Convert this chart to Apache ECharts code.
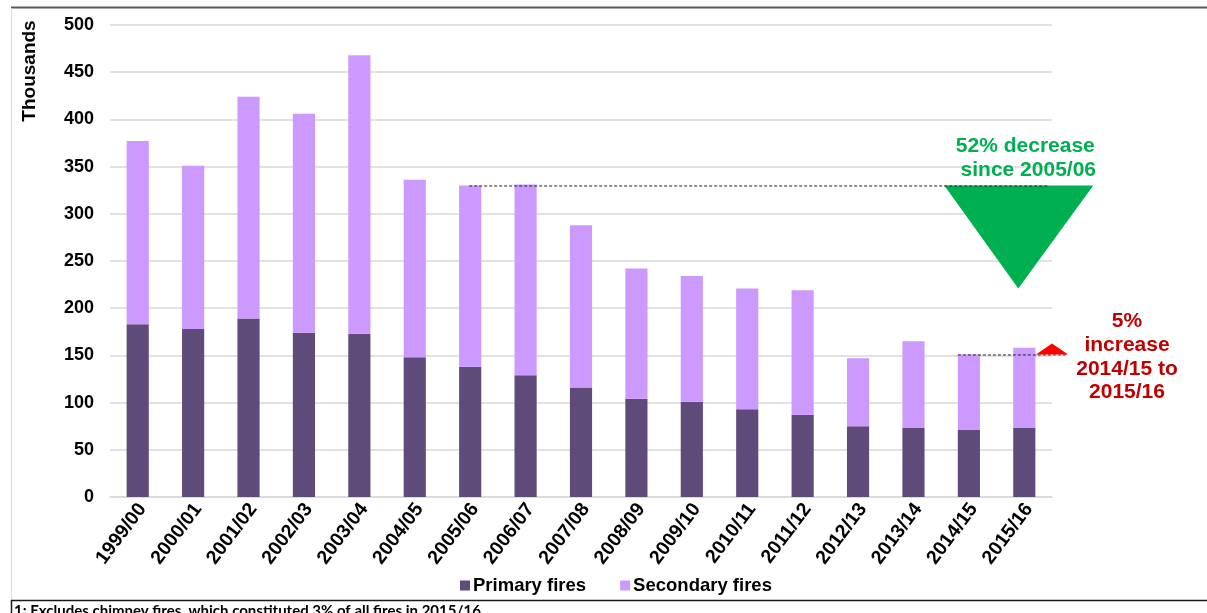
<!DOCTYPE html>
<html>
<head>
<meta charset="utf-8">
<script src="https://cdn.jsdelivr.net/npm/echarts@6/dist/echarts.min.js"></script>
<style>
  html, body { margin: 0; padding: 0; background: #fff; }
  #chart { width: 1207px; height: 613px; }
</style>
</head>
<body>
<div id="chart"></div>
<script>
// Fires attended by type, thousands
const years = ['1999/00','2000/01','2001/02','2002/03','2003/04','2004/05','2005/06','2006/07','2007/08','2008/09','2009/10','2010/11','2011/12','2012/13','2013/14','2014/15','2015/16'];
const primaryFires   = [183, 178, 189, 174, 173, 148, 138, 129, 116, 104, 101, 93, 87, 75, 73, 71, 73];
const secondaryFires = [194, 173, 235, 232, 295, 188, 192, 202, 172, 138, 133, 128, 132, 72, 92, 80, 85];
const yTicks = [0, 50, 100, 150, 200, 250, 300, 350, 400, 450, 500];

const totals = primaryFires.map((p, i) => p + secondaryFires[i]);
const baseIdx = years.indexOf('2005/06');
const prevIdx = years.indexOf('2014/15');
const lastIdx = years.length - 1;

const FONT = 'Liberation Sans, Arial, sans-serif';
const chart = echarts.init(document.getElementById('chart'));

chart.setOption({
  animation: false,
  backgroundColor: '#ffffff',
  grid: { left: 110, right: 155, top: 25, bottom: 116, containLabel: false },
  legend: {
    data: ['Primary fires', 'Secondary fires'],
    left: 455, top: 571,
    itemWidth: 10, itemHeight: 10, itemGap: 34,
    icon: 'rect',
    textStyle: { fontFamily: FONT, fontWeight: 'bold', fontSize: 18.5, color: '#000', padding: [0, 0, 0, -2] }
  },
  xAxis: {
    type: 'category',
    data: years,
    axisLine: { show: true, lineStyle: { color: '#d9d9d9', width: 1.5 } },
    axisTick: { show: false },
    axisLabel: {
      rotate: 53, margin: 15, interval: 0, padding: [0, -8, 0, 0],
      fontFamily: FONT, fontWeight: 'bold', fontSize: 19.5, color: '#000'
    }
  },
  yAxis: {
    type: 'value',
    min: yTicks[0], max: yTicks[yTicks.length - 1], interval: 50,
    axisLine: { show: false },
    axisTick: { show: false },
    splitLine: { lineStyle: { color: '#d9d9d9', width: 1.5 } },
    axisLabel: { margin: 16, fontFamily: FONT, fontWeight: 'bold', fontSize: 18, color: '#000' }
  },
  series: [
    {
      name: 'Primary fires', type: 'bar', stack: 'fires', barWidth: '40%',
      itemStyle: { color: '#5f4b7a' },
      data: primaryFires
    },
    {
      name: 'Secondary fires', type: 'bar', stack: 'fires', barWidth: '40%',
      itemStyle: { color: '#cc99ff' },
      data: secondaryFires
    }
  ]
});

// Annotations placed against the axes
const px = (i, v) => chart.convertToPixel({ gridIndex: 0 }, [i, v]);
const gridRight = 1207 - 155;
const baseTop = px(baseIdx, totals[baseIdx]);
const prevTop = px(prevIdx, totals[prevIdx]);
const lastTop = px(lastIdx, totals[lastIdx]);
const halfBar = 11;
const greenCx = lastTop[0] - 6;

chart.setOption({
  graphic: [
    // frame
    { type: 'line', shape: { x1: 11, y1: 7.5, x2: 1207, y2: 7.5 }, style: { stroke: '#5a5a5a', lineWidth: 2 }, z: 10 },
    { type: 'line', shape: { x1: 11.5, y1: 8, x2: 11.5, y2: 600 }, style: { stroke: '#dcdcdc', lineWidth: 1 }, z: 10 },
    { type: 'line', shape: { x1: 11, y1: 600.5, x2: 1207, y2: 600.5 }, style: { stroke: '#1a1a1a', lineWidth: 1.5 }, z: 10 },
    { type: 'line', shape: { x1: 11.5, y1: 600, x2: 11.5, y2: 613 }, style: { stroke: '#1a1a1a', lineWidth: 1.5 }, z: 10 },
    {
      type: 'text', left: 14, top: 604, z: 10,
      style: { text: '1: Excludes chimney fires, which constituted 3% of all fires in 2015/16.', font: 'bold 15px Lato, sans-serif', fill: '#000' }
    },
    // axis title
    {
      type: 'text', x: 30, y: 71, rotation: Math.PI / 2, z: 10,
      style: { text: 'Thousands', font: 'bold 19px ' + FONT, fill: '#000', align: 'center', verticalAlign: 'middle' }
    },
    // decrease since 2005/06
    {
      type: 'polygon', z: 5,
      shape: { points: [[greenCx - 74, baseTop[1]], [greenCx + 75, baseTop[1]], [greenCx, baseTop[1] + 103]] },
      style: { fill: '#00b050' }
    },
    {
      type: 'line', z: 6,
      shape: { x1: baseTop[0] - 1, y1: baseTop[1] + 0.5, x2: gridRight - 4, y2: baseTop[1] + 0.5 },
      style: { stroke: '#222', lineWidth: 1, lineDash: [3, 2] }
    },
    {
      type: 'text', x: greenCx + 7, y: 146, z: 10,
      style: { text: '52% decrease', font: 'bold 21px ' + FONT, fill: '#00b050', align: 'center', verticalAlign: 'middle' }
    },
    {
      type: 'text', x: greenCx + 10, y: 170, z: 10,
      style: { text: 'since 2005/06', font: 'bold 21px ' + FONT, fill: '#00b050', align: 'center', verticalAlign: 'middle' }
    },
    // increase 2014/15 to 2015/16
    {
      type: 'line', z: 6,
      shape: { x1: prevTop[0] - halfBar, y1: prevTop[1] + 0.5, x2: gridRight + 16, y2: prevTop[1] + 0.5 },
      style: { stroke: '#222', lineWidth: 1, lineDash: [3, 2] }
    },
    {
      type: 'polygon', z: 7,
      shape: { points: [[gridRight - 16, prevTop[1]], [gridRight + 16, prevTop[1]], [gridRight, prevTop[1] - 11]] },
      style: { fill: '#ff0000' }
    },
    {
      type: 'text', x: 1127, y: 357, z: 10,
      style: {
        text: '5%\nincrease\n2014/15 to\n2015/16',
        font: 'bold 21px ' + FONT, lineHeight: 23.7, fill: '#c00000', align: 'center', verticalAlign: 'middle'
      }
    }
  ]
});
</script>
</body>
</html>
